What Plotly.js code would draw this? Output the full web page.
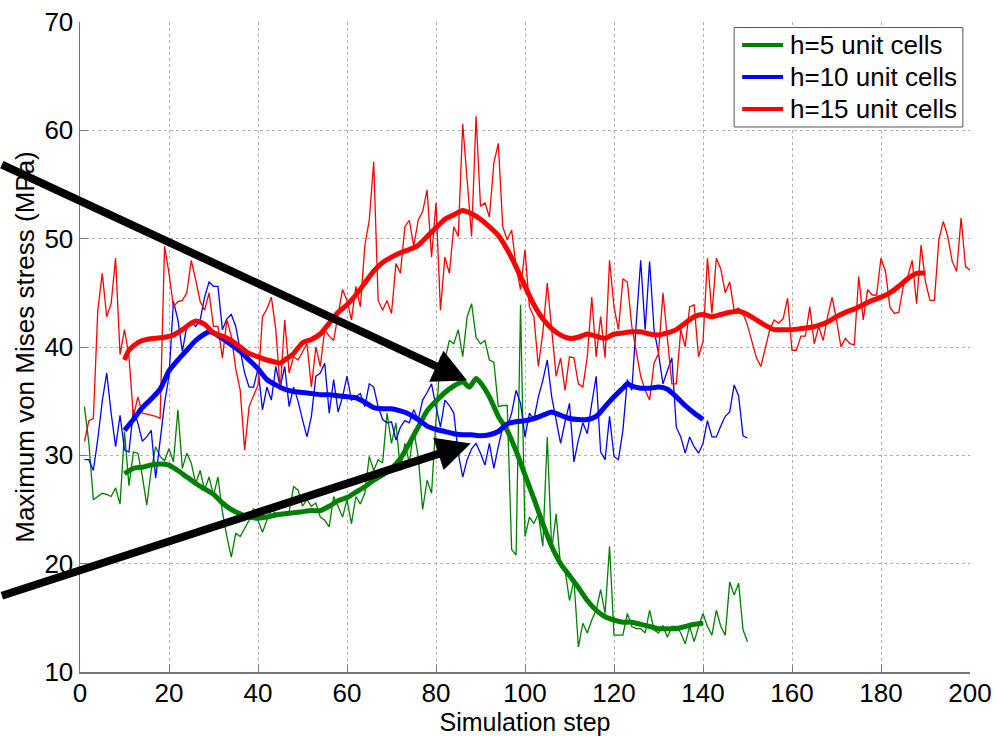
<!DOCTYPE html>
<html>
<head>
<meta charset="utf-8">
<script src="https://cdn.plot.ly/plotly-3.0.1.min.js"></script>
<style>html,body{margin:0;padding:0;background:#fff;}#chart{width:999px;height:736px;}</style>
</head>
<body>
<div id="chart"></div>
<script>
// ---- Data ----
const seriesNames = ["h=5 unit cells", "h=10 unit cells", "h=15 unit cells"];

// Raw (thin) series: one value per simulation step
const rawStepsShort = Array.from({length: 150}, (_, i) => i + 1); // steps 1..150
const rawStepsLong = Array.from({length: 200}, (_, i) => i + 1);  // steps 1..200

const greenRaw = [
  34.5,31.1,25.9,26.2,26.5,26.4,26.2,27.0,25.5,32.2,
  27.2,30.3,30.2,28.1,25.4,28.6,30.8,29.9,29.5,30.6,
  29.4,34.2,28.8,30.2,29.3,27.4,28.6,26.8,28.0,26.3,
  28.0,24.8,22.5,20.6,22.8,22.5,23.3,24.0,25.1,24.0,
  22.9,24.0,25.0,24.6,24.4,24.6,24.8,27.1,26.8,25.3,
  25.9,25.3,25.6,24.3,24.0,23.4,26.2,25.3,24.3,25.9,
  23.7,26.2,25.5,26.5,29.9,28.6,29.6,29.3,33.9,31.1,
  33.0,28.6,31.1,29.3,32.3,29.9,25.0,27.7,26.5,33.3,
  39.1,38.8,40.6,40.3,41.6,39.1,42.8,44.0,40.9,40.3,
  40.6,38.8,38.6,34.5,34.6,34.6,21.3,20.8,43.9,22.5,
  24.3,23.7,24.6,21.6,31.7,21.3,24.6,19.7,19.4,16.6,
  18.5,12.3,14.5,13.6,14.8,15.7,17.6,15.4,21.6,13.4,
  13.4,13.4,15.4,14.2,14.0,14.0,13.6,15.7,13.9,13.6,
  14.3,13.2,14.2,14.2,13.6,12.6,14.2,12.8,14.2,15.4,
  14.2,13.4,15.7,14.2,13.4,18.3,17.1,18.2,13.9,12.8
];

const blueRaw = [
  29.6,29.6,28.6,31.5,35.0,37.6,33.9,30.8,33.7,30.5,
  30.3,34.2,33.0,31.3,31.7,32.3,27.9,31.5,34.8,37.3,
  44.2,42.5,39.6,41.9,42.3,41.9,42.5,44.6,46.0,45.6,
  45.6,41.6,42.6,43.0,41.9,39.7,37.6,36.3,36.3,38.0,
  34.2,36.3,35.1,38.2,36.3,38.2,34.5,36.3,35.0,33.3,
  31.7,33.6,37.3,37.6,38.5,33.9,37.0,34.0,35.4,37.3,
  35.1,35.4,35.7,34.5,36.6,36.3,34.5,33.3,33.0,33.1,
  31.4,32.6,33.2,33.0,34.2,33.3,35.1,35.8,36.6,34.5,
  32.6,35.1,34.6,33.9,30.2,28.0,29.6,30.6,31.1,30.2,
  29.1,31.1,28.8,30.8,32.6,32.6,33.9,36.0,34.8,31.7,
  33.9,33.3,35.4,36.9,38.8,35.4,33.3,31.1,33.1,34.8,
  29.4,31.4,33.0,32.0,34.8,37.3,30.3,29.6,33.6,29.9,
  29.6,32.3,37.0,36.0,42.2,48.0,41.6,47.9,41.6,39.4,
  36.6,37.9,39.0,32.6,31.7,30.2,31.7,30.8,30.2,31.1,
  33.2,31.7,31.7,32.7,33.6,34.0,36.5,35.5,31.8,31.6
];

const redRaw = [
  31.3,33.2,33.4,43.4,46.8,42.8,44.0,48.2,39.3,41.6,
  39.1,33.6,35.4,33.9,33.8,33.7,33.6,33.4,49.3,46.8,
  43.7,44.2,44.3,45.0,48.0,46.2,44.2,43.4,45.0,41.9,
  41.9,39.0,42.5,41.0,38.0,36.0,30.5,34.5,35.5,36.5,
  42.8,43.5,44.6,41.6,36.0,42.5,37.6,39.1,38.8,39.5,
  40.3,36.3,40.0,38.2,41.6,41.0,40.6,43.0,45.3,44.3,
  42.5,45.6,43.7,49.3,51.7,57.1,44.3,43.4,44.3,43.1,
  47.7,46.8,51.1,51.7,49.3,51.7,52.5,54.5,48.3,53.3,
  43.4,48.3,46.8,51.1,50.2,60.6,55.1,50.2,61.3,53.0,
  53.3,52.0,57.0,58.8,51.1,49.9,50.8,47.4,45.3,49.0,
  43.7,42.8,38.2,41.3,45.9,41.3,37.3,39.0,36.0,39.1,
  39.0,36.6,36.3,39.1,44.6,39.1,42.8,39.0,48.0,43.7,
  41.6,46.3,46.0,41.9,39.4,37.3,36.0,35.1,38.5,39.4,
  45.0,41.0,36.6,36.6,41.6,40.0,43.7,43.9,39.1,40.5,
  48.2,43.1,48.2,47.2,45.0,46.0,43.4,43.6,43.1,42.0,
  40.5,39.0,38.2,40.0,41.6,42.5,42.2,42.6,44.5,39.7,
  39.7,41.0,41.0,43.7,40.3,41.9,40.6,42.8,44.6,42.5,
  40.0,40.8,40.3,40.2,46.5,42.5,45.3,44.8,44.8,48.2,
  47.0,43.7,43.1,43.2,45.6,46.5,48.0,44.0,49.4,46.0,
  44.3,44.3,49.9,51.6,50.2,47.9,47.0,51.9,47.4,47.1
];

// Smoothed (thick) series
const greenSmoothX = [10,12,14,16,18,20,22,24,26,28,30,32,34,36,38,40,42,44,46,48,50,52,54,56,58,60,62,64,66,68,70,72,74,76,78,80,82,84,86,87.5,89,90,92,94,96,98,100,102,104,106,108,110,112,114,116,118,120,122,124,126,128,130,132,134,136,138,140];
const greenSmoothY = [28.3,28.8,28.9,29.1,29.2,29.1,28.6,28.0,27.4,26.9,26.4,25.6,25.0,24.6,24.3,24.2,24.3,24.5,24.6,24.7,24.8,24.9,24.9,25.3,25.8,26.1,26.6,27.1,27.7,28.2,28.8,29.7,31.1,32.6,34.1,35.0,35.8,36.4,36.8,36.3,37.1,36.7,35.4,33.6,32.3,30.4,28.2,26.0,23.7,21.6,20.0,18.9,17.8,16.6,15.7,15.1,14.8,14.6,14.6,14.4,14.2,14.0,14.0,14.0,14.2,14.4,14.5];

const blueSmoothX = [10,12,14,16,18,20,22,24,26,28,29,30,32,34,36,38,40,42,44,46,48,50,52,54,56,58,60,62,64,66,68,70,72,74,76,78,80,82,84,86,88,90,92,94,96,98,100,102,104,106,108,110,112,114,116,118,120,122,123,124,126,128,130,132,134,136,138,140];
const blueSmoothY = [32.3,33.3,34.4,35.2,36.1,37.8,38.8,39.7,40.6,41.2,41.4,41.3,40.8,40.2,39.6,38.8,38.0,37.0,36.5,36.1,35.9,35.8,35.7,35.6,35.6,35.5,35.4,35.3,34.9,34.4,34.3,34.3,34.1,33.8,33.3,32.7,32.4,32.2,32.0,31.9,31.9,31.8,31.9,32.2,32.9,33.1,33.2,33.4,33.7,34.0,33.7,33.4,33.3,33.3,33.6,34.5,35.4,36.2,36.6,36.4,36.2,36.2,36.3,36.1,35.4,34.6,33.9,33.3];

const redSmoothX = [10,11,13,15,17,19,21,23,25,26,28,30,32,34,36,38,40,42,44,45,46,48,50,52,54,56,58,60,62,64,66,68,70,72,74,76,78,80,82,84,86,88,90,92,94,96,98,100,102,104,106,108,110,112,114,116,118,120,122,124,126,128,130,132,134,136,138,140,142,144,146,148,150,152,154,156,158,160,162,164,166,168,170,172,174,176,178,180,182,184,186,188,190];
const redSmoothY = [38.8,39.7,40.4,40.7,40.8,40.9,41.1,41.6,42.2,42.4,42.1,41.3,41.0,40.6,40.0,39.4,39.1,38.8,38.6,38.5,38.8,39.4,40.4,40.7,41.2,42.2,43.2,43.9,44.8,45.9,47.0,47.8,48.3,48.7,49.0,49.4,50.2,51.0,51.8,52.2,52.6,52.3,51.8,51.1,50.3,49.0,47.4,45.6,43.9,42.6,41.7,41.1,40.8,40.9,41.2,41.0,40.8,41.2,41.3,41.4,41.4,41.2,41.1,41.3,41.6,42.2,42.8,43.0,42.8,43.0,43.2,43.3,43.0,42.5,42.0,41.6,41.6,41.6,41.7,41.8,42.0,42.3,42.8,43.2,43.5,43.9,44.3,44.6,45.0,45.6,46.3,46.8,46.8];

// Arrow annotations: [step, stress] of tip and tail
const arrowTips = [[87.0, 36.9], [87.8, 31.1]];
const arrowTails = [[-17.9, 56.9], [-17.9, 17.0]];

const xTicks = [0,20,40,60,80,100,120,140,160,180,200];
const yTicks = [10,20,30,40,50,60,70];

// ---- Styling ----
const colors = ['rgb(0,128,0)', 'rgb(0,0,255)', 'rgb(255,0,0)'];
const FONT = 'Liberation Sans, Arial, Helvetica, sans-serif';
const FS = 26;

const traces = [
  {x: rawStepsShort, y: greenRaw, mode: 'lines', line: {color: colors[0], width: 1.3}, showlegend: false, hoverinfo: 'skip'},
  {x: rawStepsShort, y: blueRaw, mode: 'lines', line: {color: colors[1], width: 1.3}, showlegend: false, hoverinfo: 'skip'},
  {x: rawStepsLong, y: redRaw, mode: 'lines', line: {color: colors[2], width: 1.3}, showlegend: false, hoverinfo: 'skip'},
  {x: greenSmoothX, y: greenSmoothY, mode: 'lines', name: seriesNames[0], showlegend: false, line: {color: colors[0], width: 5, shape: 'spline', smoothing: 0.6}},
  {x: blueSmoothX, y: blueSmoothY, mode: 'lines', name: seriesNames[1], showlegend: false, line: {color: colors[1], width: 5, shape: 'spline', smoothing: 0.6}},
  {x: redSmoothX, y: redSmoothY, mode: 'lines', name: seriesNames[2], showlegend: false, line: {color: colors[2], width: 5, shape: 'spline', smoothing: 0.6}}
];

const annotations = arrowTips.map((tip, i) => ({
  x: tip[0], y: tip[1], xref: 'x', yref: 'y',
  ax: arrowTails[i][0], ay: arrowTails[i][1], axref: 'x', ayref: 'y',
  text: '', showarrow: true, arrowhead: 2, arrowsize: 0.85, arrowwidth: 8, arrowcolor: '#000', standoff: 0
}));

// Legend box drawn in MATLAB style (paper coordinates)
const legBox = {x0: 0.735, x1: 0.992, y0: 0.8385, y1: 0.9915};
const legRowsY = [0.9646, 0.9154, 0.8662];
const shapes = [{type: 'rect', xref: 'paper', yref: 'paper', x0: legBox.x0, x1: legBox.x1, y0: legBox.y0, y1: legBox.y1,
  line: {color: '#555', width: 1}, fillcolor: '#fff', layer: 'above'}];
seriesNames.forEach((n, i) => {
  shapes.push({type: 'line', xref: 'paper', yref: 'paper', x0: 0.744, x1: 0.790, y0: legRowsY[i], y1: legRowsY[i],
    line: {color: colors[i], width: 4}, layer: 'above'});
  annotations.push({xref: 'paper', yref: 'paper', x: 0.7955, y: legRowsY[i], xanchor: 'left', yanchor: 'middle',
    text: n, showarrow: false, font: {family: FONT, size: FS, color: '#000'}});
});

const layout = {
  width: 999, height: 736,
  margin: {l: 79.5, r: 29, t: 22, b: 64},
  paper_bgcolor: '#fff', plot_bgcolor: '#fff',
  font: {family: FONT, size: FS, color: '#000'},
  showlegend: false,
  xaxis: {
    range: [0, 200], tickvals: xTicks, ticktext: xTicks.map(String),
    showgrid: true, gridcolor: '#b0b0b0', griddash: 'dot', gridwidth: 1,
    zeroline: false, showline: true, linecolor: '#777', linewidth: 1.5,
    ticks: 'inside', ticklen: 7, tickcolor: '#777', ticklabelstandoff: -3,
    tickfont: {family: FONT, size: FS, color: '#000'},
    title: {text: 'Simulation step', font: {family: FONT, size: FS - 1, color: '#000'}, standoff: 5},
    automargin: false
  },
  yaxis: {
    range: [10, 70], tickvals: yTicks, ticktext: yTicks.map(String),
    showgrid: true, gridcolor: '#b0b0b0', griddash: 'dot', gridwidth: 1,
    zeroline: false, showline: true, linecolor: '#777', linewidth: 1.5,
    ticks: 'inside', ticklen: 7, tickcolor: '#777',
    tickfont: {family: FONT, size: FS, color: '#000'},
    title: {text: 'Maximum von Mises stress (MPa)', font: {family: FONT, size: FS, color: '#000'}, standoff: 2},
    automargin: false
  },
  shapes: shapes,
  annotations: annotations
};

Plotly.newPlot('chart', traces, layout, {staticPlot: true, displayModeBar: false});
</script>
</body>
</html>
